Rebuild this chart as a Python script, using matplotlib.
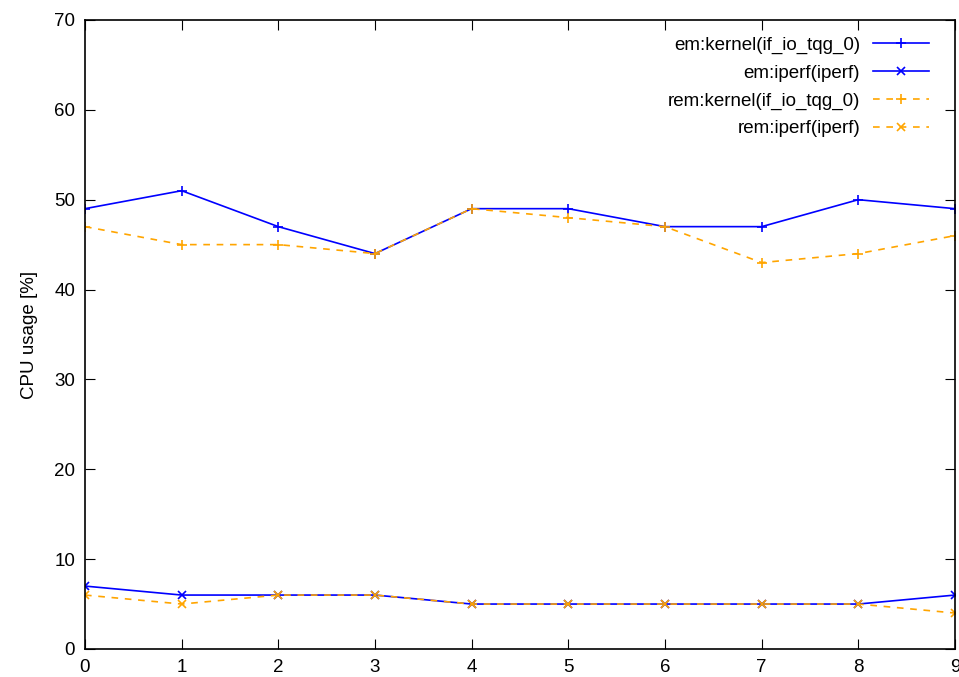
import numpy as np
import matplotlib.pyplot as plt

plt.rcParams['font.family'] = ['Liberation Sans', 'DejaVu Sans']

x = np.arange(10)
em_kernel = [49, 51, 47, 44, 49, 49, 47, 47, 50, 49]
em_iperf = [7, 6, 6, 6, 5, 5, 5, 5, 5, 6]
rem_kernel = [47, 45, 45, 44, 49, 48, 47, 43, 44, 46]
rem_iperf = [6, 5, 6, 6, 5, 5, 5, 5, 5, 4]

blue = '#0000ff'
orange = '#ffa500'

fig = plt.figure(figsize=(9.59, 6.77), dpi=100)
ax = fig.add_axes([0.0886, 0.0414, 0.9072, 0.9291])

ax.plot(x, em_kernel, color=blue, lw=1.2, marker='+', ms=7, mew=1.2, label='em:kernel(if_io_tqg_0)')
ax.plot(x, em_iperf, color=blue, lw=1.2, marker='x', ms=6, mew=1.2, label='em:iperf(iperf)')
ax.plot(x, rem_kernel, color=orange, lw=1.2, ls=(0, (4, 4)), marker='+', ms=7, mew=1.2, label='rem:kernel(if_io_tqg_0)')
ax.plot(x, rem_iperf, color=orange, lw=1.2, ls=(0, (4, 4)), marker='x', ms=6, mew=1.2, label='rem:iperf(iperf)')

ax.set_xlim(0, 9)
ax.set_ylim(0, 70)
ax.set_xticks(x)
ax.set_yticks(np.arange(0, 71, 10))
ax.tick_params(direction='in', top=True, right=True, length=7, labelsize=13.5, pad=7)
for s in ax.spines.values():
    s.set_linewidth(1.2)
ax.set_ylabel('CPU usage [%]', fontsize=13.5, labelpad=12)

ax.legend(loc='upper right', frameon=False, markerfirst=False, fontsize=13.5,
          handlelength=3.0, handletextpad=0.7, labelspacing=0.56,
          borderaxespad=0.5, bbox_to_anchor=(0.99, 1.0))

fig.savefig('out.png', dpi=100)
